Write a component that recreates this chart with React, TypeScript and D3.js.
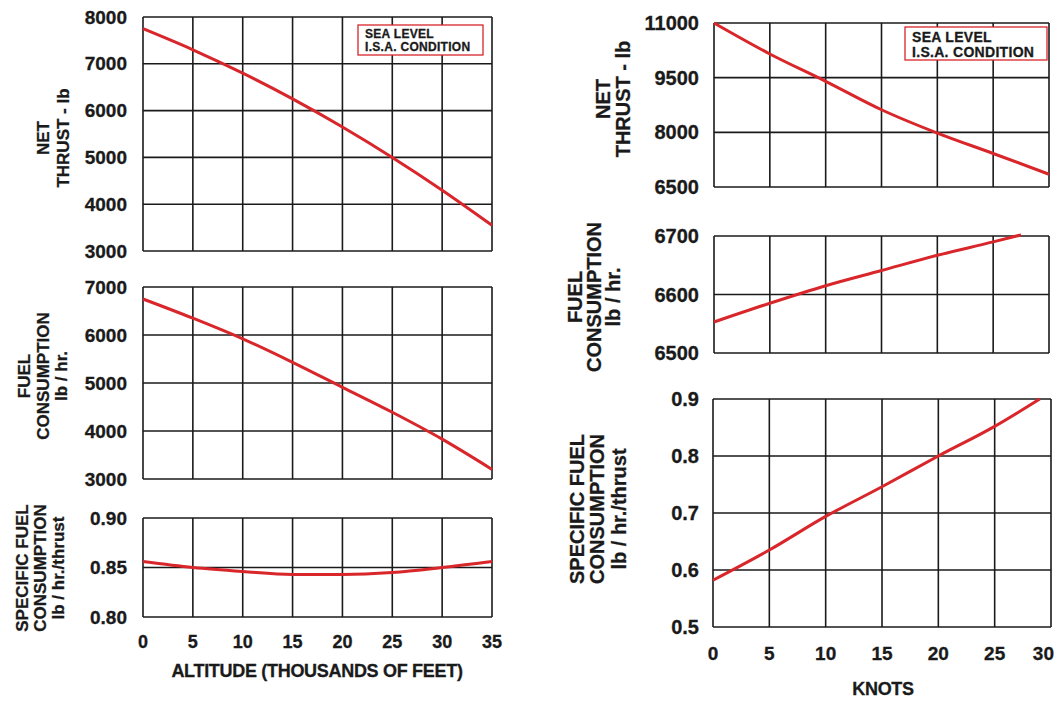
import React, { useEffect, useRef } from 'react';
import * as d3 from 'd3';

// altitude side (thousands of feet)
const altitude = [0, 5, 10, 15, 20, 25, 30, 35];
const altThrust = [7750, 7300, 6800, 6250, 5650, 5000, 4300, 3550];
const altFuel = [6750, 6350, 5920, 5430, 4910, 4390, 3830, 3200];
const altSfc = [0.856, 0.85, 0.846, 0.843, 0.843, 0.845, 0.85, 0.856];

// speed side (knots)
const knotsThrust = [0, 5, 10, 15, 20, 25, 30];
const knotThrust = [11000, 10150, 9400, 8620, 7980, 7420, 6850];
const knotsFuel = [0, 5, 10, 15, 20, 25, 27.5];
const knotFuel = [6553, 6585, 6615, 6641, 6667, 6690, 6702];
const knotsSfc = [0, 5, 10, 15, 20, 25, 29];
const knotSfc = [0.582, 0.635, 0.694, 0.746, 0.8, 0.852, 0.9];

// tick values
const altTicks = [0, 5, 10, 15, 20, 25, 30, 35];
const knotTicks = [0, 5, 10, 15, 20, 25, 30];
const thrustTicksL = [3000, 4000, 5000, 6000, 7000, 8000];
const fuelTicksL = [3000, 4000, 5000, 6000, 7000];
const sfcTicksL = [0.8, 0.85, 0.9];
const thrustTicksR = [6500, 8000, 9500, 11000];
const fuelTicksR = [6500, 6600, 6700];
const sfcTicksR = [0.5, 0.6, 0.7, 0.8, 0.9];

const legendLines = ['SEA LEVEL', 'I.S.A. CONDITION'];

const FONT = '"Liberation Sans", Arial, Helvetica, sans-serif';
const RED = '#d8262b';
const INK = '#1a1a1a';
const W = 1057;

const App = () => {
  const svgRef = useRef(null);

  useEffect(() => {
    const svg = d3.select(svgRef.current);
    svg.selectAll('*').remove();

    const panels = [
      { x0: 143, x1: 492, y0: 17, y1: 251, xd: [0, 35], yd: [3000, 8000], xt: altTicks, yt: thrustTicksL,
        xs: altitude, ys: altThrust, fmt: d3.format('d'), fs: 19, labelX: 127,
        title: ['NET', 'THRUST - lb'], tx: [43, 63], ty: 138, tfs: 17,
        legend: { x: 358, y: 25, w: 125, h: 30, fs: 12, first: 8.5, gap: 13.5 } },
      { x0: 143, x1: 492, y0: 287, y1: 479, xd: [0, 35], yd: [3000, 7000], xt: altTicks, yt: fuelTicksL,
        xs: altitude, ys: altFuel, fmt: d3.format('d'), fs: 19, labelX: 127,
        title: ['FUEL', 'CONSUMPTION', 'lb / hr.'], tx: [24, 43, 61], ty: 376, tfs: 17 },
      { x0: 143, x1: 492, y0: 518, y1: 617, xd: [0, 35], yd: [0.8, 0.9], xt: altTicks, yt: sfcTicksL,
        xs: altitude, ys: altSfc, fmt: d3.format('.2f'), fs: 19, labelX: 127,
        title: ['SPECIFIC FUEL', 'CONSUMPTION', 'lb / hr./thrust'], tx: [22, 40, 58], ty: 568, tfs: 17,
        xLabels: { y: 642, fs: 18 }, xTitle: { text: 'ALTITUDE (THOUSANDS OF FEET)', x: 317, y: 671, fs: 18 } },
      { x0: 714, x1: 1049, y0: 23, y1: 187, xd: [0, 30], yd: [6500, 11000], xt: knotTicks, yt: thrustTicksR,
        xs: knotsThrust, ys: knotThrust, fmt: d3.format('d'), fs: 20, labelX: 699,
        title: ['NET', 'THRUST - lb'], tx: [603, 623], ty: 99, tfs: 20,
        legend: { x: 905, y: 27, w: 142, h: 33, fs: 14, first: 9.5, gap: 15.8 } },
      { x0: 714, x1: 1049, y0: 236, y1: 353, xd: [0, 30], yd: [6500, 6700], xt: knotTicks, yt: fuelTicksR,
        xs: knotsFuel, ys: knotFuel, fmt: d3.format('d'), fs: 20, labelX: 699,
        title: ['FUEL', 'CONSUMPTION', 'lb / hr.'], tx: [575, 594, 613], ty: 297, tfs: 20 },
      { x0: 713, x1: 1051, y0: 399, y1: 627, xd: [0, 30], yd: [0.5, 0.9], xt: knotTicks, yt: sfcTicksR,
        xs: knotsSfc, ys: knotSfc, fmt: d3.format('.1f'), fs: 20, labelX: 699,
        title: ['SPECIFIC FUEL', 'CONSUMPTION', 'lb / hr./thrust'], tx: [577, 597, 619], ty: 509, tfs: 20,
        xLabels: { y: 653, fs: 19 }, xTitle: { text: 'KNOTS', x: 883, y: 689, fs: 18 } },
    ];

    const boldText = sel => sel
      .attr('font-family', FONT)
      .attr('font-weight', 'bold')
      .attr('fill', INK)
      .attr('stroke', INK)
      .attr('stroke-width', 0.3);

    panels.forEach(p => {
      const x = d3.scaleLinear().domain(p.xd).range([p.x0, p.x1]);
      const y = d3.scaleLinear().domain(p.yd).range([p.y1, p.y0]);
      const g = svg.append('g');

      // grid
      g.selectAll('line.vx')
        .data(p.xt)
        .enter()
        .append('line')
        .attr('x1', d => x(d)).attr('x2', d => x(d))
        .attr('y1', p.y0).attr('y2', p.y1)
        .attr('stroke', INK).attr('stroke-width', 1.6);

      g.selectAll('line.hy')
        .data(p.yt)
        .enter()
        .append('line')
        .attr('x1', p.x0).attr('x2', p.x1)
        .attr('y1', d => y(d)).attr('y2', d => y(d))
        .attr('stroke', INK).attr('stroke-width', 1.6);

      // y tick labels
      g.selectAll('text.yl')
        .data(p.yt)
        .enter()
        .append('text')
        .attr('x', p.labelX)
        .attr('y', d => y(d))
        .attr('text-anchor', 'end')
        .attr('dominant-baseline', 'central')
        .attr('font-size', p.fs)
        .call(boldText)
        .text(d => p.fmt(d));

      // legend box
      if (p.legend) {
        const L = p.legend;
        g.append('rect')
          .attr('x', L.x).attr('y', L.y).attr('width', L.w).attr('height', L.h)
          .attr('fill', '#fff').attr('stroke', RED).attr('stroke-width', 1.3);
        g.selectAll('text.lg')
          .data(legendLines)
          .enter()
          .append('text')
          .attr('x', L.x + 7)
          .attr('y', (d, i) => L.y + L.first + i * L.gap)
          .attr('dominant-baseline', 'central')
          .attr('font-size', L.fs)
          .attr('letter-spacing', 0.3)
          .call(boldText)
          .text(d => d);
      }

      // curve
      const pts = p.xs.map((v, i) => [v, p.ys[i]]);
      g.append('path')
        .datum(pts)
        .attr('d', d3.line().x(d => x(d[0])).y(d => y(d[1])).curve(d3.curveMonotoneX))
        .attr('fill', 'none')
        .attr('stroke', RED)
        .attr('stroke-width', 3);

      // y title (rotated, stacked lines)
      p.title.forEach((t, i) => {
        g.append('text')
          .attr('transform', `translate(${p.tx[i]},${p.ty}) rotate(-90)`)
          .attr('text-anchor', 'middle')
          .attr('dominant-baseline', 'central')
          .attr('font-size', p.tfs)
          .call(boldText)
          .text(t);
      });

      // x tick labels + title on the bottom panel only
      if (p.xLabels) {
        g.selectAll('text.xl')
          .data(p.xt)
          .enter()
          .append('text')
          .attr('x', d => (x(d) + 12 > W ? W - 3 : x(d)))
          .attr('y', p.xLabels.y)
          .attr('text-anchor', d => (x(d) + 12 > W ? 'end' : 'middle'))
          .attr('dominant-baseline', 'central')
          .attr('font-size', p.xLabels.fs)
          .call(boldText)
          .text(d => d);
      }
      if (p.xTitle) {
        g.append('text')
          .attr('x', p.xTitle.x)
          .attr('y', p.xTitle.y)
          .attr('text-anchor', 'middle')
          .attr('dominant-baseline', 'central')
          .attr('font-size', p.xTitle.fs)
          .attr('letter-spacing', -0.3)
          .call(boldText)
          .text(p.xTitle.text);
      }
    });
  }, []);

  return (
    <svg
      ref={svgRef}
      width={W}
      height={701}
      style={{ position: 'absolute', left: 0, top: 0, background: '#fff' }}
    />
  );
};

export default App;
